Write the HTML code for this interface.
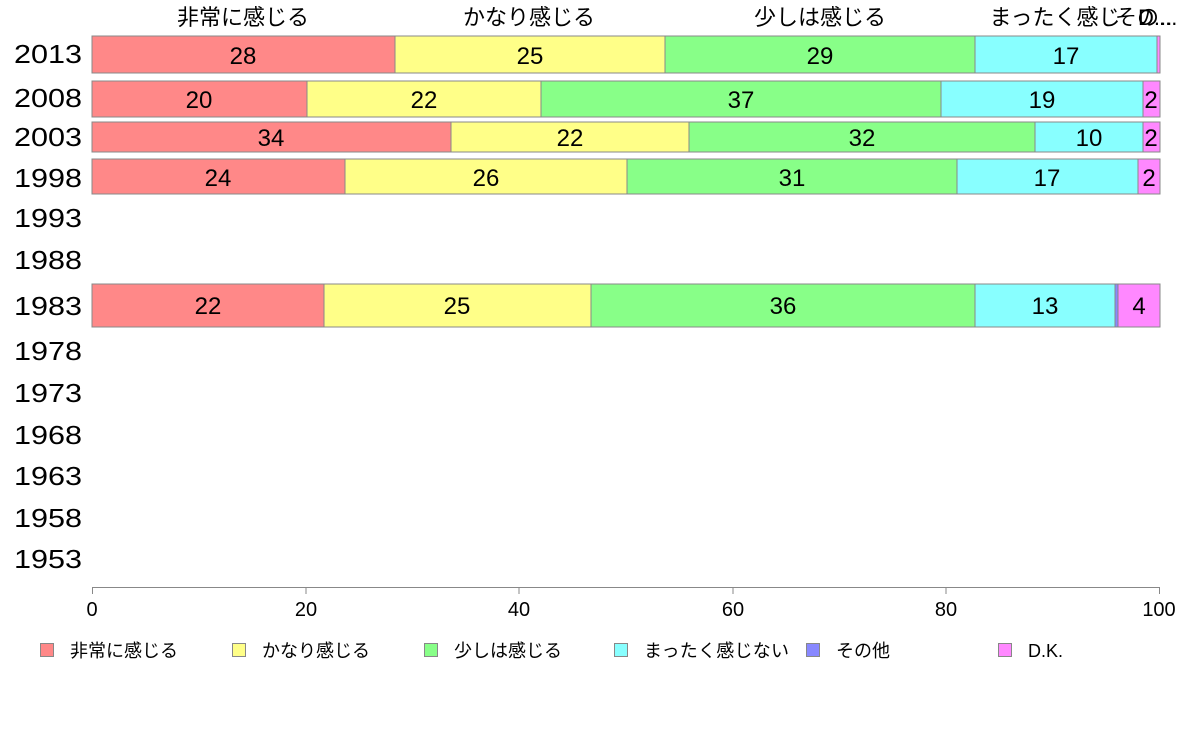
<!DOCTYPE html>
<html><head><meta charset="utf-8"><style>
body{margin:0;background:#fff;}
svg{display:block;font-family:"Liberation Sans","Noto Sans CJK JP",sans-serif;}
</style></head><body>
<svg width="1188" height="736" xmlns="http://www.w3.org/2000/svg">
<g font-size="22" fill="#000" text-anchor="middle">
<text x="243" y="25">非常に感じる</text>
<text x="529" y="25">かなり感じる</text>
<text x="820" y="25">少しは感じる</text>
<text x="1055" y="25">まったく感じ</text>
<text x="1115" y="25" text-anchor="start">その...</text>
<text x="1138" y="25" text-anchor="start">D...</text>
</g>
<g stroke="#888" stroke-width="1">
<rect x="92" y="36" width="303" height="37" fill="#ff8888"/>
<rect x="395" y="36" width="270" height="37" fill="#ffff88"/>
<rect x="665" y="36" width="310" height="37" fill="#88ff88"/>
<rect x="975" y="36" width="182" height="37" fill="#88ffff"/>
<rect x="1157" y="36" width="3" height="37" fill="#ff88ff"/>
<rect x="92" y="81" width="215" height="36" fill="#ff8888"/>
<rect x="307" y="81" width="234" height="36" fill="#ffff88"/>
<rect x="541" y="81" width="400" height="36" fill="#88ff88"/>
<rect x="941" y="81" width="202" height="36" fill="#88ffff"/>
<rect x="1143" y="81" width="17" height="36" fill="#ff88ff"/>
<rect x="92" y="122" width="359" height="30" fill="#ff8888"/>
<rect x="451" y="122" width="238" height="30" fill="#ffff88"/>
<rect x="689" y="122" width="346" height="30" fill="#88ff88"/>
<rect x="1035" y="122" width="108" height="30" fill="#88ffff"/>
<rect x="1143" y="122" width="17" height="30" fill="#ff88ff"/>
<rect x="92" y="159" width="253" height="35" fill="#ff8888"/>
<rect x="345" y="159" width="282" height="35" fill="#ffff88"/>
<rect x="627" y="159" width="330" height="35" fill="#88ff88"/>
<rect x="957" y="159" width="181" height="35" fill="#88ffff"/>
<rect x="1138" y="159" width="22" height="35" fill="#ff88ff"/>
<rect x="92" y="284" width="232" height="43" fill="#ff8888"/>
<rect x="324" y="284" width="267" height="43" fill="#ffff88"/>
<rect x="591" y="284" width="384" height="43" fill="#88ff88"/>
<rect x="975" y="284" width="140" height="43" fill="#88ffff"/>
<rect x="1115" y="284" width="3" height="43" fill="#8888ff"/>
<rect x="1118" y="284" width="42" height="43" fill="#ff88ff"/>
</g>
<g font-size="24" fill="#000" text-anchor="middle">
<text x="243" y="64">28</text><text x="530" y="64">25</text><text x="820" y="64">29</text><text x="1066" y="64">17</text>
<text x="199" y="108">20</text><text x="424" y="108">22</text><text x="741" y="108">37</text><text x="1042" y="108">19</text><text x="1151" y="108">2</text>
<text x="271" y="146">34</text><text x="570" y="146">22</text><text x="862" y="146">32</text><text x="1089" y="146">10</text><text x="1151" y="146">2</text>
<text x="218" y="186">24</text><text x="486" y="186">26</text><text x="792" y="186">31</text><text x="1047" y="186">17</text><text x="1149" y="186">2</text>
<text x="208" y="314">22</text><text x="457" y="314">25</text><text x="783" y="314">36</text><text x="1045" y="314">13</text><text x="1139" y="314">4</text>
</g>
<g font-size="26" fill="#000" lengthAdjust="spacingAndGlyphs">
<text x="14" y="63" textLength="68" lengthAdjust="spacingAndGlyphs">2013</text><text x="14" y="107" textLength="68" lengthAdjust="spacingAndGlyphs">2008</text><text x="14" y="146" textLength="68" lengthAdjust="spacingAndGlyphs">2003</text><text x="14" y="187" textLength="68" lengthAdjust="spacingAndGlyphs">1998</text>
<text x="14" y="227" textLength="68" lengthAdjust="spacingAndGlyphs">1993</text><text x="14" y="269" textLength="68" lengthAdjust="spacingAndGlyphs">1988</text><text x="14" y="315" textLength="68" lengthAdjust="spacingAndGlyphs">1983</text><text x="14" y="360" textLength="68" lengthAdjust="spacingAndGlyphs">1978</text>
<text x="14" y="402" textLength="68" lengthAdjust="spacingAndGlyphs">1973</text><text x="14" y="444" textLength="68" lengthAdjust="spacingAndGlyphs">1968</text><text x="14" y="485" textLength="68" lengthAdjust="spacingAndGlyphs">1963</text><text x="14" y="527" textLength="68" lengthAdjust="spacingAndGlyphs">1958</text>
<text x="14" y="568" textLength="68" lengthAdjust="spacingAndGlyphs">1953</text>
</g>
<g stroke="#888" stroke-width="1">
<line x1="92" y1="587.5" x2="1160" y2="587.5"/>
<line x1="92.5" y1="587" x2="92.5" y2="594"/><line x1="306" y1="587" x2="306" y2="594"/>
<line x1="519" y1="587" x2="519" y2="594"/><line x1="733" y1="587" x2="733" y2="594"/>
<line x1="946" y1="587" x2="946" y2="594"/><line x1="1159.5" y1="587" x2="1159.5" y2="594"/>
</g>
<g font-size="20" fill="#000" text-anchor="middle">
<text x="92" y="616">0</text><text x="306" y="616">20</text><text x="519" y="616">40</text>
<text x="733" y="616">60</text><text x="946" y="616">80</text><text x="1159" y="616">100</text>
</g>
<g stroke="#888" stroke-width="1">
<rect x="40.5" y="643.5" width="13" height="13" fill="#ff8888"/>
<rect x="232.5" y="643.5" width="13" height="13" fill="#ffff88"/>
<rect x="424.5" y="643.5" width="13" height="13" fill="#88ff88"/>
<rect x="614.5" y="643.5" width="13" height="13" fill="#88ffff"/>
<rect x="806.5" y="643.5" width="13" height="13" fill="#8888ff"/>
<rect x="998.5" y="643.5" width="13" height="13" fill="#ff88ff"/>
</g>
<g font-size="18" fill="#000">
<text x="70" y="657">非常に感じる</text><text x="262" y="657">かなり感じる</text>
<text x="454" y="657">少しは感じる</text><text x="644" y="657" textLength="145">まったく感じない</text>
<text x="836" y="657">その他</text><text x="1028" y="657">D.K.</text>
</g>
</svg>
</body></html>
